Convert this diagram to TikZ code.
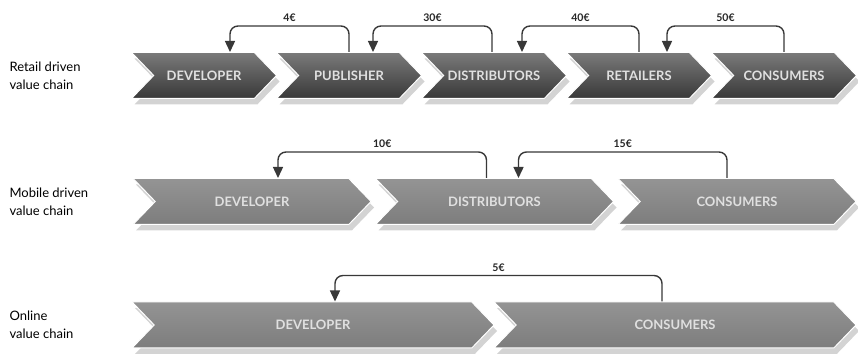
\documentclass[tikz,border=0pt]{standalone}
\usepackage{fontspec}
\setsansfont{Lato}
\usepackage{tikz}
\usetikzlibrary{shapes.symbols,shadows,arrows.meta}
\definecolor{retailtop}{gray}{.48}
\definecolor{retailbottom}{gray}{.22}
\definecolor{plaintop}{gray}{.58}
\definecolor{plainbottom}{gray}{.49}
\definecolor{paycolor}{gray}{.22}
\newcommand{\pitchretail}{145pt}
\newcommand{\widthretail}{145pt}
\newcommand{\pitchmobile}{242.5pt}
\newcommand{\widthmobile}{238pt}
\newcommand{\pitchonline}{362pt}
\newcommand{\widthonline}{362pt}
\newcommand{\rise}{26pt}
\tikzset{
    link/.style={signal, signal from=west, signal to=east, signal pointer angle=92,
        draw=white, line width=1pt, minimum height=46pt, inner sep=0pt,
        text=white!88!black, font=\sffamily\bfseries\fontsize{13}{15}\selectfont,
        drop shadow={shadow xshift=3pt, shadow yshift=-6pt, opacity=0.35}},
    retail/.style={link, minimum width=\widthretail, top color=retailtop, bottom color=retailbottom},
    mobile/.style={link, minimum width=\widthmobile, top color=plaintop, bottom color=plainbottom},
    online/.style={link, minimum width=\widthonline, top color=plaintop, bottom color=plainbottom},
    rowlabel/.style={anchor=west, align=left, font=\sffamily\fontsize{13}{18}\selectfont},
    pay/.style={draw=paycolor, line width=1.4pt, rounded corners=8pt,
        -{Triangle[width=10pt, length=11pt]}},
    amount/.style={above, font=\sffamily\bfseries\fontsize{10.5}{12}\selectfont, text=black!85}
}
\begin{document}
\begin{tikzpicture}[x=1pt, y=1pt]
    \useasboundingbox (0,0) rectangle (858,358);

    \path
        (6,282.5) node[rowlabel] {Retail driven\\value chain}
        ++(198,0) node[retail] (r1dev) {DEVELOPER}
        ++(0:\pitchretail) node[retail] (r1pub) {PUBLISHER}
        ++(0:\pitchretail) node[retail] (r1dis) {DISTRIBUTORS}
        ++(0:\pitchretail) node[retail] (r1ret) {RETAILERS}
        ++(0:\pitchretail) node[retail] (r1con) {CONSUMERS};

    \path
        (6,156.5) node[rowlabel] {Mobile driven\\value chain}
        ++(246,0) node[mobile] (r2dev) {DEVELOPER}
        ++(0:\pitchmobile) node[mobile] (r2dis) {DISTRIBUTORS}
        ++(0:\pitchmobile) node[mobile] (r2con) {CONSUMERS};

    \path
        (6,33) node[rowlabel] {Online\\value chain}
        ++(307,0) node[online] (r3dev) {DEVELOPER}
        ++(0:\pitchonline) node[online] (r3con) {CONSUMERS};

    % payments, from buyer back to seller
    \draw[pay] (r1pub.north) -- ++(0,\rise) -| node[amount, pos=0.25] {4€} ([xshift=26pt]r1dev.north);
    \draw[pay] ([xshift=-2pt]r1dis.north) -- ++(0,\rise) -| node[amount, pos=0.25] {30€} ([xshift=24pt]r1pub.north);
    \draw[pay] (r1ret.north) -- ++(0,\rise) -| node[amount, pos=0.25] {40€} ([xshift=28pt]r1dis.north);
    \draw[pay] (r1con.north) -- ++(0,\rise) -| node[amount, pos=0.25] {50€} ([xshift=28pt]r1ret.north);

    \draw[pay] ([xshift=-8pt]r2dis.north) -- ++(0,\rise) -| node[amount, pos=0.25] {10€} ([xshift=26pt]r2dev.north);
    \draw[pay] ([xshift=-10pt]r2con.north) -- ++(0,\rise) -| node[amount, pos=0.25] {15€} ([xshift=24pt]r2dis.north);

    \draw[pay] ([xshift=-13pt]r3con.north) -- ++(0,\rise) -| node[amount, pos=0.25] {5€} ([xshift=22pt]r3dev.north);
\end{tikzpicture}
\end{document}
